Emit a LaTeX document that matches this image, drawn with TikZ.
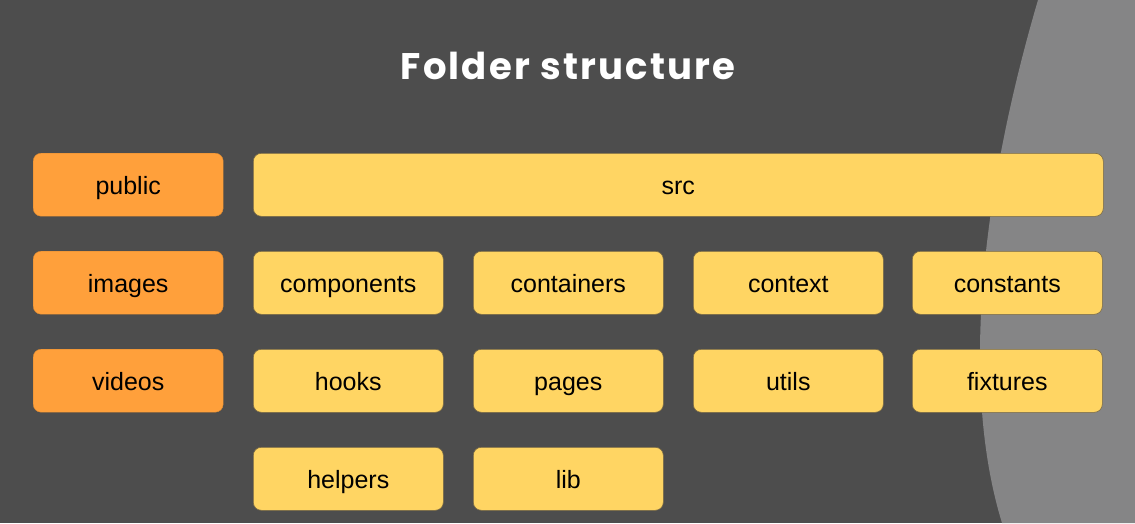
\documentclass[tikz,border=0pt]{standalone}
\usepackage{fontspec}
\setmainfont{Liberation Sans}
\newfontfamily\titlefont[LetterSpace=6]{Poppins}
\definecolor{bgdark}{HTML}{4D4D4D}
\definecolor{bglight}{HTML}{858586}
\definecolor{orangebox}{HTML}{FFA03B}
\definecolor{yellowbox}{HTML}{FFD563}
\definecolor{boxline}{HTML}{7A6A45}
\begin{document}
\begin{tikzpicture}[x=1pt,y=-1pt,
  folder/.style={rounded corners=8pt, minimum height=63pt, inner sep=0pt,
    text height=21pt, text depth=2pt,
    font=\fontsize{25}{28}\selectfont, text=black, anchor=north west},
  orangefolder/.style={folder, fill=orangebox, draw=orangebox!85!black, line width=0.4pt, minimum width=190pt},
  yellowfolder/.style={folder, fill=yellowbox, draw=boxline, line width=0.6pt, minimum width=190pt}]
\useasboundingbox (0,0) rectangle (1135,523);
\fill[bgdark] (0,0) rectangle (1135,523);
\fill[bglight] (1038,0) .. controls (985,180) and (958,380) .. (1002,523) -- (1135,523) -- (1135,0) -- cycle;
\node[text=white, font=\titlefont\fontsize{37}{44}\selectfont\bfseries] (title) at (568,66) {Folder structure};
% left column
\node[orangefolder] (public) at (33,153) {public};
\node[orangefolder] (images) at (33,251) {images};
\node[orangefolder] (videos) at (33,349) {videos};
% src
\node[yellowfolder, minimum width=850pt] (src) at (253,153) {src};
% row 2
\node[yellowfolder] (components) at (253,251) {components};
\node[yellowfolder] (containers) at (473,251) {containers};
\node[yellowfolder] (context) at (693,251) {context};
\node[yellowfolder] (constants) at (912,251) {constants};
% row 3
\node[yellowfolder] (hooks) at (253,349) {hooks};
\node[yellowfolder] (pages) at (473,349) {pages};
\node[yellowfolder] (utils) at (693,349) {utils};
\node[yellowfolder] (fixtures) at (912,349) {fixtures};
% row 4
\node[yellowfolder] (helpers) at (253,447) {helpers};
\node[yellowfolder] (lib) at (473,447) {lib};
\end{tikzpicture}
\end{document}
